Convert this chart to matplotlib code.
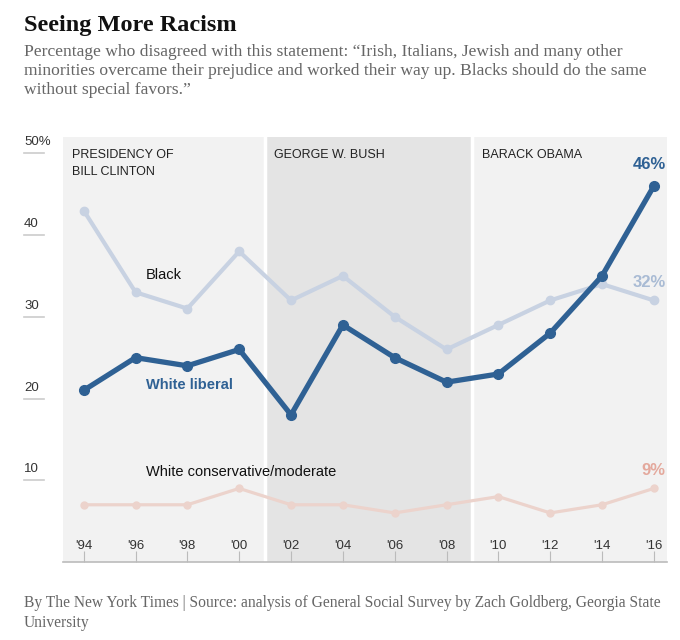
import matplotlib
matplotlib.use("Agg")
import matplotlib.pyplot as plt

years = [1994, 1996, 1998, 2000, 2002, 2004, 2006, 2008, 2010, 2012, 2014, 2016]
tick_labels = ["'94", "'96", "'98", "'00", "'02", "'04", "'06", "'08", "'10", "'12", "'14", "'16"]
black = [43, 33, 31, 38, 32, 35, 30, 26, 29, 32, 34, 32]
white_liberal = [21, 25, 24, 26, 18, 29, 25, 22, 23, 28, 35, 46]
white_cons = [7, 7, 7, 9, 7, 7, 6, 7, 8, 6, 7, 9]
presidencies = [("PRESIDENCY OF\nBILL CLINTON", 1993.2, 2001), ("GEORGE W. BUSH", 2001, 2009), ("BARACK OBAMA", 2009, 2016.5)]
band_colors = ["#f2f2f2", "#e4e4e4", "#f2f2f2"]

sans = "Liberation Sans"
serif = "Liberation Serif"
c_lib = "#2f6194"
c_black = "#c8d2e2"
c_cons = "#ecd3cc"

fig = plt.figure(figsize=(6.8, 6.4), dpi=100)
ax = fig.add_axes([0.0926, 0.1219, 0.888, 0.6641])
ax.set_xlim(1993.2, 2016.5)
ax.set_ylim(0, 52)

for (name, x0, x1), col in zip(presidencies, band_colors):
    ax.axvspan(x0, x1, color=col, lw=0, zorder=0)
    ax.text(x0 + 0.35, 50.5, name, fontsize=9, family=sans,
            va="top", ha="left", color="#222222", linespacing=1.5)
for xb in [2001, 2009]:
    ax.axvline(xb, color="white", lw=2.5, zorder=1)

ax.plot(years, white_cons, color=c_cons, lw=2.3, marker="o", ms=5, zorder=2)
ax.plot(years, black, color=c_black, lw=3, marker="o", ms=6, zorder=3)
ax.plot(years, white_liberal, color=c_lib, lw=3.8, marker="o", ms=7, zorder=4)

ax.text(1996.4, 35.1, "Black", fontsize=10.5, family=sans, color="#111111", va="center")
ax.text(1996.4, 21.6, "White liberal", fontsize=10.5, family=sans, color=c_lib,
        fontweight="bold", va="center")
ax.text(1996.4, 11.0, "White conservative/moderate", fontsize=10.5, family=sans,
        color="#111111", va="center")

ax.text(2016.45, 48.6, "46%", fontsize=12, family=sans, color=c_lib, fontweight="bold",
        ha="right", va="center")
ax.text(2016.45, 34.2, "32%", fontsize=12, family=sans, color="#a9bbd4", fontweight="bold",
        ha="right", va="center")
ax.text(2016.45, 11.2, "9%", fontsize=12, family=sans, color="#e4a99d", fontweight="bold",
        ha="right", va="center")

# x ticks drawn inside, above the baseline
ax.set_xticks(years)
ax.set_xticklabels(tick_labels)
ax.tick_params(axis="x", direction="in", length=8, color="#bbbbbb", pad=-16,
               labelsize=9.5, labelcolor="#333333")
for lab in ax.get_xticklabels():
    lab.set_family(sans)
ax.set_yticks([])
for s in ["top", "right", "left"]:
    ax.spines[s].set_visible(False)
ax.spines["bottom"].set_color("#bbbbbb")
ax.spines["bottom"].set_linewidth(1.2)

# y labels on the left with short rules
ytr = ax.get_yaxis_transform()
for v in [10, 20, 30, 40, 50]:
    lab = "50%" if v == 50 else str(v)
    ax.text(-0.0646, v + 0.6, lab, transform=ytr, fontsize=9.5, family=sans,
            color="#333333", ha="left", va="bottom", clip_on=False)
    ax.plot([-0.0646, -0.031], [v, v], transform=ytr, color="#cccccc", lw=1.2, clip_on=False)

fig.text(24 / 680, 1 - 26 / 640, "Seeing More Racism", fontsize=17.5, family=serif,
         fontweight="bold", color="#111111", va="center")
fig.text(24 / 680, 1 - 44 / 640,
         "Percentage who disagreed with this statement: \u201cIrish, Italians, Jewish and many other\n"
         "minorities overcame their prejudice and worked their way up. Blacks should do the same\n"
         "without special favors.\u201d",
         fontsize=12.6, family=serif, color="#666666", va="top", linespacing=1.24)
fig.text(24 / 680, 1 - 595 / 640,
         "By The New York Times | Source: analysis of General Social Survey by Zach Goldberg, Georgia State\n"
         "University",
         fontsize=11.2, family=serif, color="#666666", va="top", linespacing=1.35)

fig.savefig("out.png", dpi=100)
